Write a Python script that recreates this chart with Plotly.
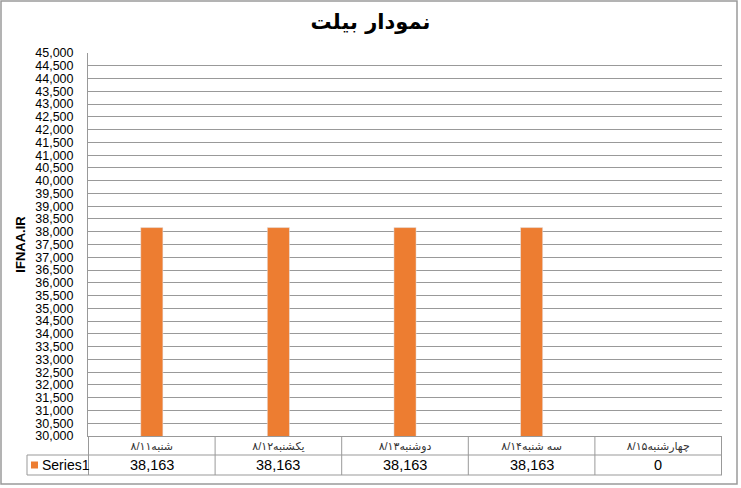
import plotly.graph_objects as go

# chart data
categories = ["شنبه۸/۱۱", "یکشنبه۸/۱۲", "دوشنبه۸/۱۳", "سه شنبه۸/۱۴", "چهارشنبه۸/۱۵"]
values = [38163, 38163, 38163, 38163, 0]
series_name = "Series1"
y_ticks = list(range(30000, 45001, 500))

bar_color = "#ED7D31"
line_color = "#999999"
font = "Liberation Sans, Arial, DejaVu Sans, sans-serif"

fig = go.Figure(go.Bar(x=categories, y=values, name=series_name,
                       marker_color=bar_color, width=0.175))
# empty trace so the gridline axis gets drawn
fig.add_trace(go.Scatter(x=categories[:1], y=[None], yaxis="y2", mode="markers",
                         hoverinfo="skip", showlegend=False))

fig.update_layout(
    width=741, height=488,
    margin=dict(l=88, r=19, t=53, b=52),
    paper_bgcolor="white", plot_bgcolor="white",
    showlegend=False,
    font=dict(family=font, color="#000"),
    title=dict(text="<b>نمودار بیلت</b>", x=0.5, xanchor="center",
               y=0.955, yanchor="middle",
               font=dict(size=21, family="DejaVu Sans, sans-serif")),
    # second axis only for the gridlines (no line at the top value)
    yaxis2=dict(overlaying="y", range=[30000, 45000], tickvals=y_ticks[:-1],
                showticklabels=False, showgrid=True, gridcolor=line_color,
                zeroline=False, ticks="", automargin=False),
)

fig.update_layout(yaxis=dict(range=[30000, 45000], tickvals=y_ticks, tickformat=",",
                             showgrid=False, automargin=False,
                             showline=True, linecolor=line_color, ticks="",
                             ticklabelstandoff=11, zeroline=False,
                             tickfont=dict(size=12.5, color="#000"),
                             title=dict(text="<b>IFNAA.IR</b>", font=dict(size=13), standoff=6)))

fig.update_xaxes(showline=True, linecolor=line_color, ticks="", showgrid=False,
                 automargin=False,
                 tickfont=dict(size=11, color="#333"), ticklabelstandoff=0)

# data table under the plot
row1 = -19 / 383
row2 = -39 / 383
left_x = (27 - 88) / 634
n = len(categories)
for b in [i - 0.5 for i in range(n + 1)]:
    fig.add_shape(type="line", xref="x", yref="paper", x0=b, x1=b, y0=0, y1=row2,
                  line=dict(color=line_color, width=1))
fig.add_shape(type="line", xref="paper", yref="paper", x0=left_x, x1=1, y0=row1, y1=row1,
              line=dict(color=line_color, width=1))
fig.add_shape(type="line", xref="paper", yref="paper", x0=left_x, x1=1, y0=row2, y1=row2,
              line=dict(color=line_color, width=1))
fig.add_shape(type="line", xref="paper", yref="paper", x0=left_x, x1=left_x, y0=row1, y1=row2,
              line=dict(color=line_color, width=1))
fig.add_shape(type="rect", xref="paper", yref="paper",
              x0=left_x + 4 / 634, x1=left_x + 11 / 634,
              y0=(row1 + row2) / 2 - 3.5 / 383, y1=(row1 + row2) / 2 + 3.5 / 383,
              fillcolor=bar_color, line_width=0)
fig.add_annotation(text=series_name, xref="paper", yref="paper",
                   x=left_x + 13 / 634, xanchor="left", y=(row1 + row2) / 2,
                   yanchor="middle", showarrow=False, font=dict(size=14))
for c, v in zip(categories, values):
    fig.add_annotation(text=f"{v:,}", xref="x", yref="paper", x=c,
                       y=(row1 + row2) / 2, yanchor="middle", showarrow=False,
                       font=dict(size=14.5))

# outer chart border
fig.add_shape(type="rect", xref="paper", yref="paper",
              x0=-87 / 634, x1=(737 - 88) / 634, y0=-(484 - 436) / 383, y1=(436 - 1) / 383,
              line=dict(color="#9a9a9a", width=1.5))

fig.write_html("out.html", config={"displayModeBar": False},
               post_script="document.body.style.margin='0';")
